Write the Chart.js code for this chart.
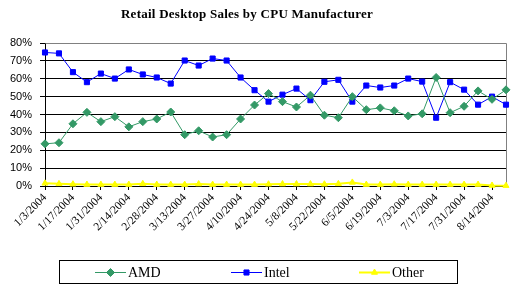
<!DOCTYPE html>
<html>
<head>
<meta charset="utf-8">
<script src="https://cdn.jsdelivr.net/npm/chart.js@4/dist/chart.umd.min.js"></script>
<style>
html,body{margin:0;padding:0;background:#fff;}
#wrap{width:511px;height:287px;position:relative;}
</style>
</head>
<body>
<div id="wrap"><canvas id="cpuChart" width="511" height="287"></canvas></div>
<script>
const chartTitle = "Retail Desktop Sales by CPU Manufacturer";

const weeks = ["1/3/2004","1/10/2004","1/17/2004","1/24/2004","1/31/2004","2/7/2004","2/14/2004","2/21/2004",
"2/28/2004","3/6/2004","3/13/2004","3/20/2004","3/27/2004","4/3/2004","4/10/2004","4/17/2004","4/24/2004",
"5/1/2004","5/8/2004","5/15/2004","5/22/2004","5/29/2004","6/5/2004","6/12/2004","6/19/2004","6/26/2004",
"7/3/2004","7/10/2004","7/17/2004","7/24/2004","7/31/2004","8/7/2004","8/14/2004","8/21/2004"];

const amd = [23.6,24.2,34.8,41.2,36.0,38.8,33.1,36.0,37.5,41.4,28.7,30.9,27.4,28.7,37.5,45.3,51.7,
47.2,44.2,50.8,39.6,38.2,50.0,42.7,43.7,42.1,39.2,40.4,60.7,41.0,44.6,53.2,48.5,53.8];

const intel = [74.7,74.2,63.7,58.1,62.9,60.1,65.2,62.4,60.7,57.3,70.2,67.4,71.3,70.2,60.7,53.6,47.2,
51.1,54.5,48.0,58.3,59.4,47.2,56.2,55.1,56.2,60.1,58.4,38.2,58.1,53.9,45.5,50.0,45.5];

const other = [1.5,1.2,1.0,0.8,0.8,0.8,0.8,1.2,0.8,0.8,0.8,1.1,0.8,0.8,0.8,0.8,1.0,
1.1,1.1,1.1,1.0,1.2,2.0,0.8,0.8,1.0,0.8,0.8,0.8,0.8,0.8,0.8,0.3,0.2];

const yTicks = [0,10,20,30,40,50,60,70,80];

// title drawn by hand so it sits where excel put it
const titlePlugin = {
  id: "titlePlugin",
  afterDraw(chart){
    const ctx = chart.ctx;
    ctx.save();
    ctx.fillStyle = "#000";
    ctx.font = "bold 13px 'Liberation Serif', serif";
    ctx.letterSpacing = "0.25px";
    ctx.textAlign = "center";
    ctx.textBaseline = "middle";
    ctx.fillText(chartTitle, 247, 15);
    ctx.restore();
  }
};

// gray frame on top and right of plot area
const plotBorder = {
  id: "plotBorder",
  beforeDatasetsDraw(chart){
    const {ctx, chartArea:a} = chart;
    ctx.save();
    ctx.strokeStyle = "#808080";
    ctx.lineWidth = 1;
    ctx.beginPath();
    ctx.moveTo(Math.round(a.left)+0.5, Math.round(a.top)+0.5);
    ctx.lineTo(Math.round(a.right)+0.5, Math.round(a.top)+0.5);
    ctx.lineTo(Math.round(a.right)+0.5, Math.round(a.bottom)+0.5);
    ctx.stroke();
    ctx.restore();
  }
};

// boxed legend with line + marker
const boxLegend = {
  id: "boxLegend",
  afterDraw(chart){
    const ctx = chart.ctx;
    ctx.save();
    ctx.strokeStyle = "#000";
    ctx.lineWidth = 1;
    ctx.strokeRect(59.5, 260.5, 398, 23);
    const xs = [95, 231, 359];
    const cy = 272;
    chart.data.datasets.forEach((ds, i) => {
      const x = xs[i];
      ctx.strokeStyle = ds.borderColor;
      ctx.lineWidth = ds.borderWidth;
      ctx.beginPath();
      ctx.moveTo(x, cy + 0.5);
      ctx.lineTo(x + 31, cy + 0.5);
      ctx.stroke();
      ctx.fillStyle = ds.pointBackgroundColor;
      ctx.strokeStyle = ds.pointBorderColor;
      ctx.lineWidth = 1;
      Chart.helpers.drawPoint(ctx, {
        pointStyle: ds.pointStyle,
        radius: ds.pointRadius,
        borderWidth: 1
      }, x + 15.5, cy + 0.5);
      ctx.fillStyle = "#000";
      ctx.font = "14px 'Liberation Serif', serif";
      ctx.textBaseline = "middle";
      ctx.textAlign = "left";
      ctx.fillText(ds.label, x + 33, cy + 1);
    });
    ctx.restore();
  }
};

new Chart(document.getElementById("cpuChart"), {
  type: "line",
  data: {
    labels: weeks,
    datasets: [
      {
        label: "AMD",
        data: amd,
        borderColor: "#339966",
        backgroundColor: "#339966",
        pointBackgroundColor: "#339966",
        pointBorderColor: "#339966",
        borderWidth: 1,
        pointStyle: "rectRot",
        pointRadius: 4,
        pointBorderWidth: 1,
        tension: 0,
        clip: false
      },
      {
        label: "Intel",
        data: intel,
        borderColor: "#0000ff",
        backgroundColor: "#0000ff",
        pointBackgroundColor: "#0000ff",
        pointBorderColor: "#0000ff",
        borderWidth: 1,
        pointStyle: "rect",
        pointRadius: 3.6,
        pointBorderWidth: 1,
        tension: 0,
        clip: false
      },
      {
        label: "Other",
        data: other,
        borderColor: "#ffff00",
        backgroundColor: "#ffff00",
        pointBackgroundColor: "#ffff00",
        pointBorderColor: "#ffff00",
        borderWidth: 2,
        pointStyle: "triangle",
        pointRadius: 3.5,
        pointBorderWidth: 1,
        tension: 0,
        clip: false
      }
    ]
  },
  options: {
    responsive: false,
    animation: false,
    layout: { padding: { left: 0, right: 0, top: 43, bottom: 0 } },
    plugins: {
      legend: { display: false },
      tooltip: { enabled: false },
      title: { display: false }
    },
    scales: {
      x: {
        offset: false,
        afterFit(scale){
          scale.height = 101;
          scale.paddingLeft = 0;
          scale.paddingRight = 4;
        },
        grid: {
          drawOnChartArea: false,
          drawTicks: true,
          tickLength: 4,
          color: (c) => (c.index % 2 === 0 ? "#000" : "rgba(0,0,0,0)")
        },
        border: { color: "#000", width: 1 },
        ticks: {
          autoSkip: false,
          minRotation: 45,
          maxRotation: 45,
          padding: 1,
          color: "#000",
          font: { family: "'Liberation Serif', serif", size: 11.5 },
          callback: (v, i) => (i % 2 === 0 ? weeks[i] : "")
        }
      },
      y: {
        min: yTicks[0],
        max: yTicks[yTicks.length - 1],
        afterFit(scale){ scale.width = 45; },
        afterBuildTicks(scale){ scale.ticks = yTicks.map(v => ({ value: v })); },
        grid: {
          color: (c) => (c.tick && c.tick.value === 80 ? "rgba(0,0,0,0)" : "#000"),
          tickColor: "#000",
          tickLength: 5,
          lineWidth: 1
        },
        border: { color: "#000", width: 1 },
        ticks: {
          padding: 8,
          color: "#000",
          font: { family: "'Liberation Sans', Arial, sans-serif", size: 11 },
          callback: (v) => v + "%"
        }
      }
    }
  },
  plugins: [plotBorder, boxLegend, titlePlugin]
});
</script>
</body>
</html>
